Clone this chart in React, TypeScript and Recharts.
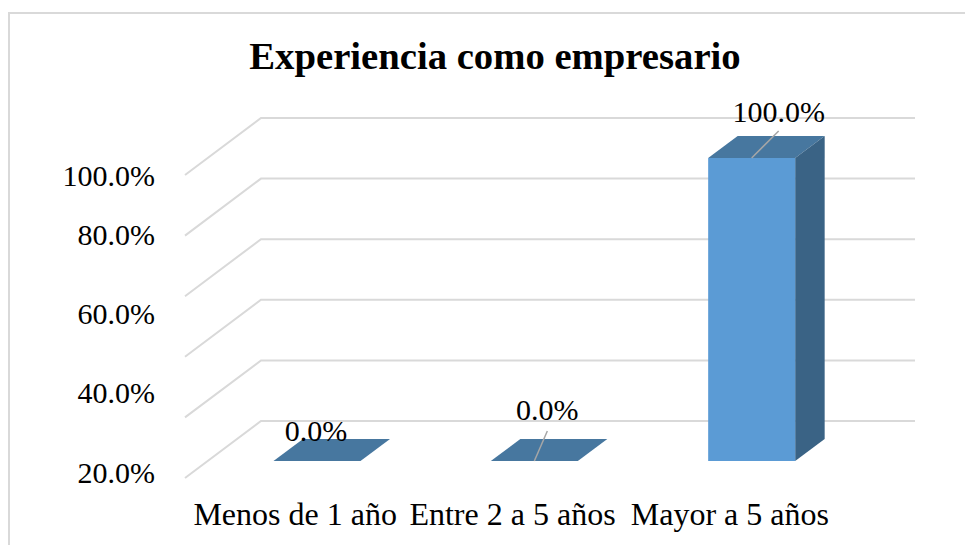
import { BarChart, Bar, XAxis, YAxis, CartesianGrid, LabelList } from 'recharts'

const categories = ['Menos de 1 año', 'Entre 2 a 5 años', 'Mayor a 5 años']
const values = [0, 0, 100]
const yTicks = [20, 40, 60, 80, 100]
const gridValues = [0, 20, 40, 60, 80, 100]

const chartData = categories.map((name, i) => ({ name, value: values[i] }))

const FONT = '"Liberation Serif", "Times New Roman", serif'

// depth of the fake 3d box
const DX = 29.5
const DY = 22

// the source chart has its axis labels shifted from the gridlines
const tickShift: Record<number, number> = { 20: 72, 40: 53, 60: 34, 80: 16, 100: 17 }

// label offsets from the bar top, leader is optional
const labelPos = [
  { dx: -1, dy: -31, leader: 0 },
  { dx: 13, dy: -52, leader: -30 },
  { dx: 27, dy: -47, leader: -27 },
]

function Box3D(props: any) {
  const { x, y, width, height } = props
  return (
    <g>
      <path d={`M${x},${y} l${DX},${-DY} h${width} l${-DX},${DY} Z`} fill="#47779f" />
      {height > 0 && (
        <>
          <path d={`M${x + width},${y} l${DX},${-DY} v${height} l${-DX},${DY} Z`} fill="#3a6385" />
          <rect x={x} y={y} width={width} height={height} fill="#5b9bd5" />
        </>
      )}
    </g>
  )
}

function GridLine(props: any) {
  const { x1, x2, y1 } = props
  return (
    <polyline
      points={`${x1 - 23.5},${y1 + 17} ${x1 + 52.5},${y1 - 40} ${x2 + 54.5},${y1 - 40}`}
      fill="none"
      stroke="#d9d9d9"
      strokeWidth={2}
    />
  )
}

function YTick(props: any) {
  const { y, payload } = props
  return (
    <text x={155} y={y + tickShift[payload.value]} textAnchor="end" dominantBaseline="central"
      fontFamily={FONT} fontSize={30} fill="#000">
      {payload.value.toFixed(1)}%
    </text>
  )
}

function XTick(props: any) {
  const { x, payload } = props
  return (
    <text x={x - 22} y={514} textAnchor="middle" dominantBaseline="central"
      fontFamily={FONT} fontSize={32} fill="#000">
      {payload.value}
    </text>
  )
}

function ValueLabel(props: any) {
  const { x, y, width, index, value } = props
  const p = labelPos[index]
  const cx = x + width / 2
  return (
    <g>
      {p.leader !== 0 && (
        <line x1={cx} y1={y} x2={cx + p.dx} y2={y + p.leader} stroke="#a6a6a6" strokeWidth={1.5} />
      )}
      <text x={cx + p.dx} y={y + p.dy} textAnchor="middle" dominantBaseline="central"
        fontFamily={FONT} fontSize={30} fill="#000">
        {value.toFixed(1)}%
      </text>
    </g>
  )
}

export default function App() {
  return (
    <div style={{ position: 'absolute', left: 0, top: 0, width: 965, height: 545, overflow: 'hidden', background: '#fff' }}>
      <div style={{
        position: 'absolute', left: 8, top: 12, width: 990, height: 560,
        border: '2px solid #d9d9d9',
      }} />
      <div style={{
        position: 'absolute', left: 0, width: 990, top: 33, textAlign: 'center',
        fontFamily: FONT, fontWeight: 'bold', fontSize: 38.7, lineHeight: '46px', color: '#000',
      }}>
        Experiencia como empresario
      </div>
      <BarChart
        width={965}
        height={545}
        data={chartData}
        margin={{ top: 158, right: 104.5, bottom: 0, left: 0 }}
        style={{ position: 'absolute', left: 0, top: 0 }}
      >
        <CartesianGrid vertical={false} horizontal={<GridLine />} horizontalValues={gridValues} />
        <XAxis dataKey="name" height={84} axisLine={false} tickLine={false} interval={0} tick={<XTick />} />
        <YAxis width={208.5} domain={[0, 100]} ticks={yTicks} axisLine={false} tickLine={false} tick={<YTick />} />
        <Bar dataKey="value" barSize={87} shape={<Box3D />} isAnimationActive={false}>
          <LabelList dataKey="value" content={<ValueLabel />} />
        </Bar>
      </BarChart>
    </div>
  )
}
